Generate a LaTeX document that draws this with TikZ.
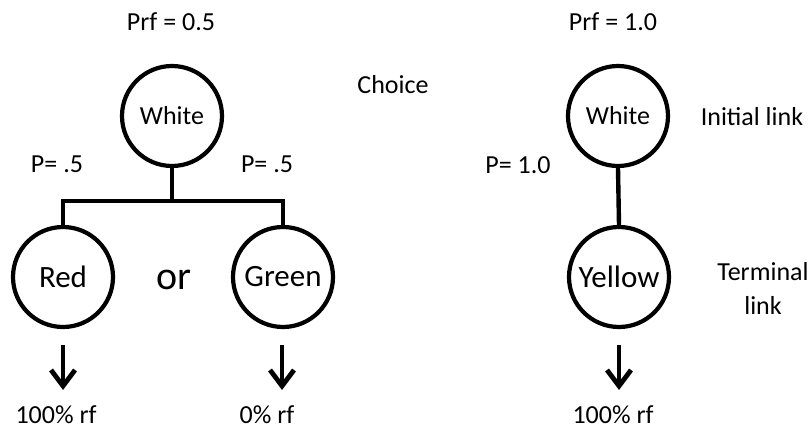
\documentclass[tikz,border=0pt]{standalone}
\usepackage{fontspec}
\setmainfont{Carlito}
\usetikzlibrary{arrows.meta}
\begin{document}
\begin{tikzpicture}[x=0.5pt,y=-0.5pt,
  state/.style={circle,draw,line width=2.1pt,minimum size=50pt,inner sep=0pt,font=\fontsize{15.5}{17}\selectfont},
  lbl/.style={inner sep=0pt,font=\fontsize{13}{15}\selectfont},
  link/.style={line width=2.2pt},
  arr/.style={line width=2.4pt,-{Straight Barb[length=8pt,width=12pt,line width=2.4pt]}}]
\useasboundingbox (0,0) rectangle (809,438);
% left
\node[state,font=\fontsize{13}{15}\selectfont] (w1) at (172,116) {White};
\node[state] (red) at (63,277) {Red};
\node[state] (green) at (283,277) {Green};
\node[lbl,font=\fontsize{20}{22}\selectfont] (or) at (174,280) {or};
\node[lbl] (prf1) at (171,22) {Prf = 0.5};
\node[lbl] (choice) at (393,85) {Choice};
\node[lbl] (pl) at (57,164) {P= .5};
\node[lbl] (pr) at (267,164) {P= .5};
\node[lbl] (rf1) at (56,415) {100\% rf};
\node[lbl] (rf2) at (267,415) {0\% rf};
\coordinate (j) at (172,201);
\draw[link] (w1.south) -- (j);
\draw[link] (red.north) -- (red.north |- j) -- (green.north |- j) -- (green.north);
\coordinate (a1s) at (63,345); \coordinate (a1e) at (63,390);
\coordinate (a2s) at (282,345); \coordinate (a2e) at (282,390);
\draw[arr] (a1s) -- (a1e);
\draw[arr] (a2s) -- (a2e);
% right
\node[state,font=\fontsize{13}{15}\selectfont] (w2) at (618,116) {White};
\node[state] (yel) at (619,277) {Yellow};
\node[lbl] (prf2) at (613,22) {Prf = 1.0};
\node[lbl] (init) at (752,117) {Initial link};
\node[lbl] (p1) at (518,165) {P= 1.0};
\node[lbl,align=center] (term) at (763,288) {Terminal\\[2pt]link};
\draw[link] (w2.south) -- (yel.north);
\coordinate (a3s) at (619,345); \coordinate (a3e) at (619,390);
\draw[arr] (a3s) -- (a3e);
\node[lbl] (rf3) at (613,415) {100\% rf};
\end{tikzpicture}
\end{document}
